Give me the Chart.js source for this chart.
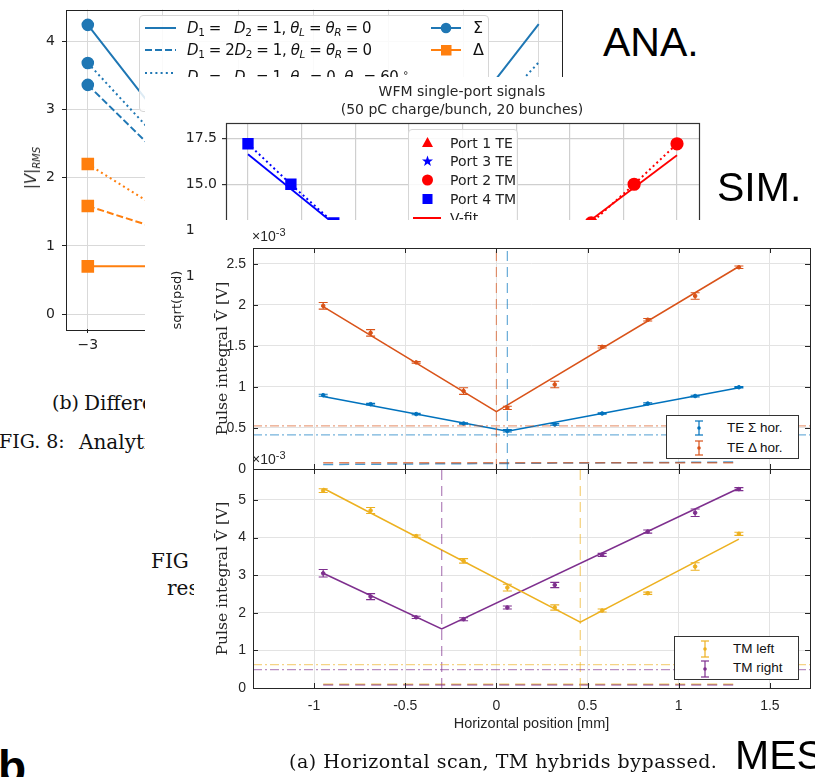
<!DOCTYPE html>
<html><head><meta charset="utf-8">
<script src="https://cdn.jsdelivr.net/npm/chart.js@4.4.0/dist/chart.umd.min.js"></script>
<style>
html,body{margin:0;padding:0;background:#fff;}
body{width:815px;height:777px;position:relative;overflow:hidden;font-family:"DejaVu Sans",sans-serif;}
.abs{position:absolute;white-space:nowrap;}
canvas{position:absolute;}
.clip{position:absolute;overflow:hidden;}
.serif{font-family:"DejaVu Serif",serif;color:#111;}
.big{font-family:"Liberation Sans",Arial,sans-serif;font-size:41px;line-height:48px;color:#000;}
.anaLeg{position:absolute;left:139px;top:15px;width:348px;height:95px;border:1px solid #d6d6d6;border-radius:4px;background:rgba(255,255,255,0.85);z-index:2;}
.anaLeg .t{position:absolute;font-size:15px;letter-spacing:-0.4px;line-height:20px;color:#111;white-space:nowrap;}
.anaLeg sub{font-size:10.5px;vertical-align:-3px;line-height:0;}
.simLeg{position:absolute;left:408px;top:129px;width:108px;height:110px;border:1px solid #d6d6d6;border-radius:4px;background:rgba(255,255,255,0.85);z-index:5;}
.simLeg .t{position:absolute;left:41px;font-size:14px;line-height:18px;color:#222;white-space:nowrap;}
.mesLeg{position:absolute;border:1px solid #333;background:#fff;z-index:8;}
.mesLeg .t{position:absolute;font-family:"Liberation Sans",Arial,sans-serif;font-size:13.5px;line-height:16px;color:#111;white-space:nowrap;}
.exp{position:absolute;font-family:"Liberation Sans",Arial,sans-serif;font-size:14px;color:#262626;z-index:9;}
.exp sup{font-size:11px;vertical-align:5px;line-height:0;}
</style></head><body>
<script>
// ---------------- DATA ----------------
// ANA. (analytical) : horizontal offset, |V|_RMS
const anaX = [-3, 0, 3];
const anaSigmaSolid = [4.24, 0.0, 4.25];
const anaSigmaDashed = [3.36, 0.12, 3.36];
const anaSigmaDotted = [3.68, 0.12, 3.69];
const anaDeltaSolid = [0.70, 0.70, 0.70];
const anaDeltaDashed = [1.585, 0.53, 1.585];
const anaDeltaDotted = [2.20, 0.13, 2.20];
const anaXTicks = [-3, -2, -1, 0, 1, 2, 3];
const anaYTicks = [0, 1, 2, 3, 4];

// SIM. (simulation) : WFM single-port signals
const simPort4X = [-4, -3.2, -2.4, -1.6];
const simPort4Y = [17.2, 15.0, 12.9, 10.9];
const simPort2X = [1.6, 2.4, 3.2, 4.0];
const simPort2Y = [10.9, 12.9, 15.0, 17.2];
const simFitBlueX = [-4, 0];
const simFitBlueY = [16.63, 7.2];
const simFitRedX = [0, 4];
const simFitRedY = [7.8, 16.58];
const simXTicks = [-4, -3, -2, -1, 0, 1, 2, 3, 4];
const simYTicks = [0, 2.5, 5, 7.5, 10, 12.5, 15, 17.5];

// MES. (measurement) : horizontal position [mm]
const mesX = [-0.95, -0.69, -0.44, -0.18, 0.06, 0.32, 0.58, 0.83, 1.09, 1.33];
const teSigma = [0.90, 0.79, 0.67, 0.555, 0.466, 0.543, 0.677, 0.798, 0.89, 0.997];
const teSigmaErr = [0.012, 0.01, 0.008, 0.008, 0.015, 0.01, 0.008, 0.01, 0.01, 0.008];
const teDelta = [1.99, 1.66, 1.30, 0.95, 0.745, 1.03, 1.49, 1.82, 2.11, 2.46];
const teDeltaErr = [0.04, 0.04, 0.01, 0.04, 0.02, 0.04, 0.015, 0.015, 0.04, 0.015];
const teSigmaFitX = [-0.95, 0.06, 1.33];
const teSigmaFitY = [0.885, 0.46, 0.99];
const teDeltaFitX = [-0.95, 0.0, 1.33];
const teDeltaFitY = [1.98, 0.70, 2.47];
const teNoise = [0.417, 0.527];          // Σ, Δ dash-dot levels
const teFloorSigma = [0.055, 0.085];     // dashed floor, left/right
const teFloorDelta = [0.077, 0.077];

const tmLeft = [5.25, 4.72, 4.04, 3.38, 2.67, 2.14, 2.06, 2.52, 3.23, 4.10];
const tmLeftErr = [0.05, 0.08, 0.03, 0.06, 0.09, 0.07, 0.04, 0.03, 0.1, 0.04];
const tmRight = [3.05, 2.43, 1.88, 1.83, 2.14, 2.74, 3.54, 4.16, 4.66, 5.29];
const tmRightErr = [0.1, 0.08, 0.03, 0.04, 0.04, 0.07, 0.04, 0.04, 0.1, 0.04];
const tmLeftFitX = [-0.95, 0.46, 1.33];
const tmLeftFitY = [5.31, 1.75, 3.96];
const tmRightFitX = [-0.95, -0.30, 1.33];
const tmRightFitY = [3.05, 1.57, 5.31];
const tmNoise = [0.62, 0.49];            // left, right dash-dot levels
const tmFloor = [0.10, 0.08];            // left, right dashed floor

const mesXTicks = [-1, -0.5, 0, 0.5, 1, 1.5];
const teYTicks = [0, 0.5, 1, 1.5, 2, 2.5];
const tmYTicks = [0, 1, 2, 3, 4, 5];
</script>

<!-- ===== ANA layer ===== -->
<canvas id="ana" width="600" height="380" style="left:0;top:0;z-index:1"></canvas>
<div class="abs" style="top:168px;z-index:1;transform:translate(-50%,-50%) rotate(-90deg);left:32px;font-size:15px;color:#222;"><i>|V|</i><sub style="font-size:10px;font-style:italic;">RMS</sub></div>
<div class="anaLeg">
  <svg class="abs" style="left:0;top:0" width="348" height="95">
    <line x1="5" y1="12" x2="36" y2="12" stroke="#1f77b4" stroke-width="2"/>
    <line x1="5" y1="34" x2="36" y2="34" stroke="#1f77b4" stroke-width="2" stroke-dasharray="7,3"/>
    <line x1="5" y1="57" x2="36" y2="57" stroke="#1f77b4" stroke-width="2" stroke-dasharray="2,3.2"/>
    <line x1="291" y1="12" x2="321" y2="12" stroke="#1f77b4" stroke-width="2"/>
    <circle cx="306" cy="12" r="5.3" fill="#1f77b4"/>
    <line x1="291" y1="34" x2="321" y2="34" stroke="#ff7f0e" stroke-width="2"/>
    <rect x="301" y="29" width="10.5" height="10.5" fill="#ff7f0e"/>
  </svg>
  <div class="t" style="left:47px;top:2px;"><i>D</i><sub>1</sub> = &nbsp;&nbsp;<i>D</i><sub>2</sub> = 1, <i>θ<sub>L</sub></i> = <i>θ<sub>R</sub></i> = 0</div>
  <div class="t" style="left:47px;top:24px;"><i>D</i><sub>1</sub> = 2<i>D</i><sub>2</sub> = 1, <i>θ<sub>L</sub></i> = <i>θ<sub>R</sub></i> = 0</div>
  <div class="t" style="left:47px;top:47px;"><i>D</i><sub>1</sub> = &nbsp;&nbsp;<i>D</i><sub>2</sub> = 1, <i>θ</i><sub>1</sub> = 0, <i>θ</i><sub>2</sub> = 60 <sup style="font-size:10px">∘</sup></div>
  <div class="t" style="left:333px;top:2px;font-size:16px;">Σ</div>
  <div class="t" style="left:333px;top:24px;font-size:16px;">Δ</div>
</div>
<div class="abs big" style="left:603px;top:18px;z-index:2;">ANA.</div>
<div class="clip" style="left:0;top:388px;width:145px;height:32px;z-index:1">
  <div class="abs serif" style="left:52px;top:3px;font-size:19px;">(b)</div>
  <div class="abs serif" style="left:84px;top:3px;font-size:20px;">Different</div>
</div>
<div class="clip" style="left:0;top:427px;width:145px;height:32px;z-index:1">
  <div class="abs serif" style="left:-1px;top:3px;font-size:19px;">FIG. 8:</div>
  <div class="abs serif" style="left:79px;top:3px;font-size:20px;">Analytical</div>
</div>
<div class="clip" style="left:140px;top:546px;width:54px;height:60px;z-index:1">
  <div class="abs serif" style="left:11px;top:3px;font-size:20px;">FIG</div>
  <div class="abs serif" style="left:27px;top:30px;font-size:20px;">results</div>
</div>
<div class="abs" style="left:-2px;top:740px;font-family:'Liberation Sans',Arial,sans-serif;font-weight:bold;font-size:46px;z-index:1;">b</div>

<!-- ===== SIM layer ===== -->
<div class="abs" style="left:145px;top:77px;width:670px;height:393px;background:#fff;z-index:3"></div>
<canvas id="sim" width="575" height="410" style="left:145px;top:77px;z-index:4"></canvas>
<div class="abs" style="left:462px;top:82px;z-index:5;transform:translateX(-50%);text-align:center;font-size:14px;line-height:18px;color:#262626;">WFM single-port signals<br>(50 pC charge/bunch, 20 bunches)</div>
<div class="simLeg">
  <svg class="abs" style="left:0;top:0" width="108" height="110">
    <polygon points="18.5,7 13,17 24,17" fill="#ff0000"/>
    <polygon points="18.5,25.5 19.9,29.4 24,29.5 20.8,32 21.9,35.9 18.5,33.6 15.1,35.9 16.2,32 13,29.5 17.1,29.4" fill="#0000ff"/>
    <circle cx="18.5" cy="50" r="5.5" fill="#ff0000"/>
    <rect x="13.5" y="64" width="10" height="10" fill="#0000ff"/>
    <line x1="4" y1="88" x2="32" y2="88" stroke="#ff0000" stroke-width="2"/>
  </svg>
  <div class="t" style="top:4px;">Port 1 TE</div>
  <div class="t" style="top:22px;">Port 3 TE</div>
  <div class="t" style="top:41px;">Port 2 TM</div>
  <div class="t" style="top:60px;">Port 4 TM</div>
  <div class="t" style="top:79px;">V-fit</div>
</div>
<div class="abs big" style="left:717px;top:163px;z-index:5;">SIM.</div>

<!-- ===== MES layer ===== -->
<div class="abs" style="left:194px;top:220px;width:621px;height:557px;background:#fff;z-index:6"></div>
<canvas id="mesTop" width="620" height="250" style="left:195px;top:225px;z-index:7"></canvas>
<canvas id="mesBot" width="620" height="317" style="left:195px;top:460px;z-index:7"></canvas>
<div class="exp" style="left:252px;top:228px;">×10<sup>-3</sup></div>
<div class="exp" style="left:252px;top:451px;">×10<sup>-3</sup></div>
<div class="mesLeg" style="left:666px;top:415px;width:131px;height:42px;">
  <svg class="abs" style="left:0;top:0" width="131" height="42">
    <g stroke="#0072BD" stroke-width="1.2"><line x1="32" y1="5" x2="32" y2="19"/><line x1="28" y1="5" x2="36" y2="5"/><line x1="28" y1="19" x2="36" y2="19"/></g>
    <circle cx="32" cy="12" r="1.8" fill="#0072BD"/>
    <g stroke="#D95319" stroke-width="1.2"><line x1="32" y1="25" x2="32" y2="39"/><line x1="28" y1="25" x2="36" y2="25"/><line x1="28" y1="39" x2="36" y2="39"/></g>
    <circle cx="32" cy="32" r="1.8" fill="#D95319"/>
  </svg>
  <div class="t" style="left:60px;top:4px;">TE Σ hor.</div>
  <div class="t" style="left:60px;top:24px;">TE Δ hor.</div>
</div>
<div class="mesLeg" style="left:674px;top:636px;width:123px;height:42px;">
  <svg class="abs" style="left:0;top:0" width="123" height="42">
    <g stroke="#EDB120" stroke-width="1.2"><line x1="30" y1="4" x2="30" y2="20"/><line x1="26" y1="4" x2="34" y2="4"/><line x1="26" y1="20" x2="34" y2="20"/></g>
    <circle cx="30" cy="12" r="1.8" fill="#EDB120"/>
    <g stroke="#7E2F8E" stroke-width="1.2"><line x1="30" y1="24" x2="30" y2="40"/><line x1="26" y1="24" x2="34" y2="24"/><line x1="26" y1="40" x2="34" y2="40"/></g>
    <circle cx="30" cy="32" r="1.8" fill="#7E2F8E"/>
  </svg>
  <div class="t" style="left:58px;top:4px;">TM left</div>
  <div class="t" style="left:58px;top:23px;">TM right</div>
</div>
<div class="abs serif" style="left:289px;top:749px;font-size:19px;letter-spacing:0.5px;line-height:24px;z-index:8;">(a) Horizontal scan, TM hybrids bypassed.</div>
<div class="abs big" style="left:735px;top:731px;z-index:8;">MES</div>

<script>
// ---------------- helpers & plugins ----------------
const pts = (xs, ys) => xs.map((x, i) => ({x: x, y: ys[i]}));
const setTicks = arr => (s => { s.ticks = arr.map(v => ({value: v})); });
const fitW = w => (s => { s.width = w; s.paddingTop = 0; s.paddingBottom = 0; });
const fitH = h => (s => { s.height = h; s.paddingLeft = 0; s.paddingRight = 0; });

const framePlugin = {
  id: 'frame',
  afterDraw(chart, args, o) {
    if (!o || !o.color) return;
    const {ctx, chartArea: a} = chart;
    ctx.save();
    ctx.strokeStyle = o.color; ctx.lineWidth = o.width || 1;
    ctx.strokeRect(Math.round(a.left) + 0.5, Math.round(a.top) + 0.5, Math.round(a.right - a.left), Math.round(a.bottom - a.top));
    if (o.inTicks) {
      const L = o.inTicks;
      ctx.beginPath();
      chart.scales.x.ticks.forEach(t => {
        const px = Math.round(chart.scales.x.getPixelForValue(t.value)) + 0.5;
        ctx.moveTo(px, a.bottom); ctx.lineTo(px, a.bottom - L);
        ctx.moveTo(px, a.top); ctx.lineTo(px, a.top + L);
      });
      chart.scales.y.ticks.forEach(t => {
        const py = Math.round(chart.scales.y.getPixelForValue(t.value)) + 0.5;
        ctx.moveTo(a.left, py); ctx.lineTo(a.left + L, py);
        ctx.moveTo(a.right, py); ctx.lineTo(a.right - L, py);
      });
      ctx.stroke();
    }
    ctx.restore();
  }
};
const errorBarPlugin = {
  id: 'errbars',
  afterDatasetsDraw(chart) {
    const {ctx} = chart; const xs = chart.scales.x, ys = chart.scales.y;
    chart.data.datasets.forEach(ds => {
      if (!ds.errors) return;
      ctx.save(); ctx.strokeStyle = ds.borderColor; ctx.lineWidth = 1.1;
      ds.data.forEach((p, j) => {
        const e = ds.errors[j];
        const px = xs.getPixelForValue(p.x);
        const y1 = ys.getPixelForValue(p.y - e), y2 = ys.getPixelForValue(p.y + e);
        ctx.beginPath();
        ctx.moveTo(px, y1); ctx.lineTo(px, y2);
        ctx.moveTo(px - 4.5, y1); ctx.lineTo(px + 4.5, y1);
        ctx.moveTo(px - 4.5, y2); ctx.lineTo(px + 4.5, y2);
        ctx.stroke();
      });
      ctx.restore();
    });
  }
};
Chart.register(framePlugin, errorBarPlugin);
Chart.defaults.animation = false;
Chart.defaults.responsive = false;
Chart.defaults.plugins.legend.display = false;
Chart.defaults.plugins.tooltip.enabled = false;

const line = (data, color, width, dash, extra) => Object.assign({
  data: data, showLine: true, borderColor: color, backgroundColor: color,
  borderWidth: width, borderDash: dash || [], pointRadius: 0, fill: false, tension: 0
}, extra || {});

// ---------------- ANA ----------------
const B = '#1f77b4', O = '#ff7f0e';
new Chart(document.getElementById('ana'), {
  type: 'scatter',
  data: { datasets: [
    line(pts(anaX, anaDeltaSolid), O, 2, [], {pointStyle: 'rect', pointRadius: [7.5, 0, 0]}),
    line(pts(anaX, anaDeltaDashed), O, 2, [7, 3], {pointStyle: 'rect', pointRadius: [7.5, 0, 0]}),
    line(pts(anaX, anaDeltaDotted), O, 2, [2, 3.2], {pointStyle: 'rect', pointRadius: [7.5, 0, 0]}),
    line(pts(anaX, anaSigmaSolid), B, 2, [], {pointStyle: 'circle', pointRadius: [5.3, 0, 0]}),
    line(pts(anaX, anaSigmaDashed), B, 2, [7, 3], {pointStyle: 'circle', pointRadius: [5.3, 0, 0]}),
    line(pts(anaX, anaSigmaDotted), B, 2, [2, 3.2], {pointStyle: 'circle', pointRadius: [5.3, 0, 0]}),
  ]},
  options: {
    layout: {padding: {left: 0, top: 7, right: 38, bottom: 21}},
    plugins: {frame: {color: '#222', width: 1}},
    scales: {
      x: {min: -3.29, max: 3.31, afterBuildTicks: setTicks(anaXTicks), afterFit: fitH(30),
          grid: {color: '#d9d9d9', tickColor: '#222', tickLength: 4}, border: {display: false},
          ticks: {padding: 4, color: '#222', font: {family: 'DejaVu Sans', size: 14}, callback: v => String(v).replace('-', '\u2212')}},
      y: {min: -0.218, max: 4.465, afterBuildTicks: setTicks(anaYTicks), afterFit: fitW(66),
          grid: {color: '#d9d9d9', tickColor: '#222', tickLength: 4}, border: {display: false},
          ticks: {padding: 7, color: '#222', font: {family: 'DejaVu Sans', size: 14}}}
    }
  }
});

// ---------------- SIM ----------------
new Chart(document.getElementById('sim'), {
  type: 'scatter',
  data: { datasets: [
    line(pts(simFitBlueX, simFitBlueY), '#0000ff', 1.8),
    line(pts(simFitRedX, simFitRedY), '#ff0000', 1.8),
    line(pts(simPort4X, simPort4Y), '#0000ff', 2, [2, 3], {pointStyle: 'rect', pointRadius: 6.6}),
    line(pts(simPort2X, simPort2Y), '#ff0000', 2, [2, 3], {pointStyle: 'circle', pointRadius: 5.6}),
  ]},
  options: {
    layout: {padding: {left: 0, top: 46, right: 21, bottom: 0}},
    plugins: {frame: {color: '#333', width: 1.2}},
    scales: {
      x: {min: -4.41, max: 4.41, afterBuildTicks: setTicks(simXTicks), afterFit: fitH(10),
          grid: {color: '#cfcfcf', lineWidth: 1.2, tickColor: '#333', tickLength: 4}, border: {display: false},
          ticks: {display: false}},
      y: {min: -0.91, max: 18.33, afterBuildTicks: setTicks(simYTicks), afterFit: fitW(81),
          grid: {color: '#cfcfcf', lineWidth: 1.2, tickColor: '#333', tickLength: 4}, border: {display: false},
          title: {display: true, text: 'sqrt(psd)', color: '#222', font: {family: 'DejaVu Sans', size: 13}, padding: {top: 25, bottom: 0}},
          ticks: {padding: 5, color: '#222', font: {family: 'DejaVu Sans', size: 14}, callback: v => Number(v).toFixed(1)}}
    }
  }
});

// ---------------- MES ----------------
const cB = '#0072BD', cO = '#D95319', cY = '#EDB120', cP = '#7E2F8E';
const fade = (hex, a) => { const n = parseInt(hex.slice(1), 16); return `rgba(${n >> 16},${(n >> 8) & 255},${n & 255},${a})`; };
const DD = [9, 3, 2, 3], DA = [10, 6];
const tickFont = {family: 'Liberation Sans', size: 14};
const mesGrid = {color: '#e3e3e3', drawTicks: false};
const yTitle = {display: true, text: 'Pulse integral V\u0304 [V]', color: '#262626', font: {family: 'DejaVu Serif', size: 15.5}, padding: {top: 19, bottom: 0}};

new Chart(document.getElementById('mesTop'), {
  type: 'scatter',
  data: { datasets: [
    line([{x: -1.335, y: teNoise[1]}, {x: 1.72, y: teNoise[1]}], fade(cO, 0.55), 1.2, DD),
    line([{x: -1.335, y: teNoise[0]}, {x: 1.72, y: teNoise[0]}], fade(cB, 0.55), 1.2, DD),
    line([{x: teDeltaFitX[1], y: 0}, {x: teDeltaFitX[1], y: 2.695}], fade(cO, 0.6), 1.2, DA),
    line([{x: teSigmaFitX[1], y: 0}, {x: teSigmaFitX[1], y: 2.695}], fade(cB, 0.6), 1.2, DA),
    line([{x: mesX[0], y: teFloorDelta[0]}, {x: mesX[9], y: teFloorDelta[1]}], fade(cO, 0.7), 1.5, DA),
    line([{x: mesX[0], y: teFloorSigma[0]}, {x: mesX[9], y: teFloorSigma[1]}], fade(cB, 0.7), 1.5, DA),
    line(pts(teSigmaFitX, teSigmaFitY), cB, 1.6),
    line(pts(teDeltaFitX, teDeltaFitY), cO, 1.6),
    {data: pts(mesX, teSigma), errors: teSigmaErr, borderColor: cB, backgroundColor: cB, pointRadius: 1.8, showLine: false},
    {data: pts(mesX, teDelta), errors: teDeltaErr, borderColor: cO, backgroundColor: cO, pointRadius: 1.8, showLine: false},
  ]},
  options: {
    layout: {padding: {left: 0, top: 23, right: 4, bottom: 6}},
    plugins: {frame: {color: '#262626', width: 1, inTicks: 5}},
    scales: {
      x: {min: -1.335, max: 1.72, afterBuildTicks: setTicks(mesXTicks), afterFit: fitH(0),
          grid: mesGrid, border: {display: false}, ticks: {display: false}},
      y: {min: 0, max: 2.695, afterBuildTicks: setTicks(teYTicks), afterFit: fitW(58),
          grid: mesGrid, border: {display: false}, title: yTitle,
          ticks: {padding: 7, color: '#262626', font: tickFont, callback: v => String(v)}}
    }
  }
});

new Chart(document.getElementById('mesBot'), {
  type: 'scatter',
  data: { datasets: [
    line([{x: -1.335, y: tmNoise[0]}, {x: 1.72, y: tmNoise[0]}], fade(cY, 0.55), 1.2, DD),
    line([{x: -1.335, y: tmNoise[1]}, {x: 1.72, y: tmNoise[1]}], fade(cP, 0.55), 1.2, DD),
    line([{x: tmLeftFitX[1], y: 0}, {x: tmLeftFitX[1], y: 5.824}], fade(cY, 0.6), 1.2, DA),
    line([{x: tmRightFitX[1], y: 0}, {x: tmRightFitX[1], y: 5.824}], fade(cP, 0.6), 1.2, DA),
    line([{x: mesX[0], y: tmFloor[1]}, {x: mesX[9], y: tmFloor[1]}], fade(cP, 0.6), 1.5, DA),
    line([{x: mesX[0], y: tmFloor[0]}, {x: mesX[9], y: tmFloor[0]}], fade(cY, 0.7), 1.5, DA),
    line(pts(tmLeftFitX, tmLeftFitY), cY, 1.6),
    line(pts(tmRightFitX, tmRightFitY), cP, 1.6),
    {data: pts(mesX, tmLeft), errors: tmLeftErr, borderColor: cY, backgroundColor: cY, pointRadius: 1.8, showLine: false},
    {data: pts(mesX, tmRight), errors: tmRightErr, borderColor: cP, backgroundColor: cP, pointRadius: 1.8, showLine: false},
  ]},
  options: {
    layout: {padding: {left: 0, top: 9, right: 4, bottom: 41}},
    plugins: {frame: {color: '#262626', width: 1, inTicks: 5}},
    scales: {
      x: {min: -1.335, max: 1.72, afterBuildTicks: setTicks(mesXTicks), afterFit: fitH(48),
          grid: mesGrid, border: {display: false},
          title: {display: true, text: 'Horizontal position [mm]', color: '#262626', font: {family: 'Liberation Sans', size: 14.5}, padding: {top: 0, bottom: 3}},
          ticks: {padding: 10, color: '#262626', font: tickFont, callback: v => String(v)}},
      y: {min: 0, max: 5.824, afterBuildTicks: setTicks(tmYTicks), afterFit: fitW(58),
          grid: mesGrid, border: {display: false}, title: yTitle,
          ticks: {padding: 7, color: '#262626', font: tickFont, callback: v => String(v)}}
    }
  }
});
</script>
</body></html>
